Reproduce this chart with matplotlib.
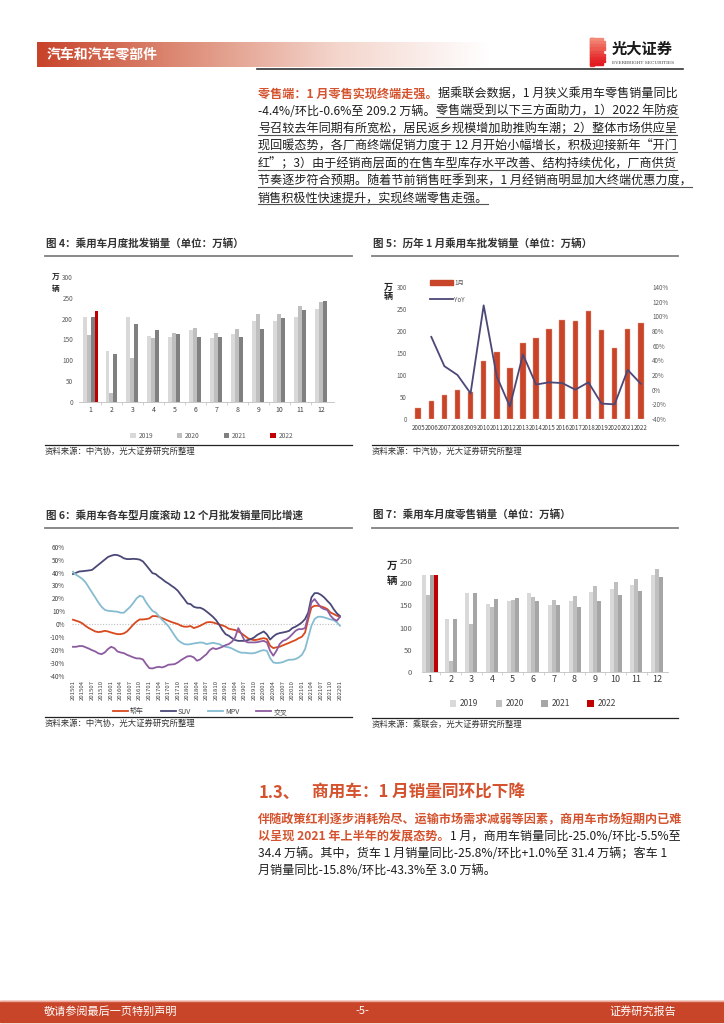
import numpy as np
import matplotlib
matplotlib.use('Agg')
import matplotlib.pyplot as plt
from matplotlib.colors import LinearSegmentedColormap
from matplotlib.patches import Rectangle, Patch
from matplotlib.lines import Line2D

plt.rcParams['font.family'] = ['Noto Sans CJK SC', 'DejaVu Sans']
plt.rcParams['axes.unicode_minus'] = False

# ---------------- 数据 ----------------
months = ['1', '2', '3', '4', '5', '6', '7', '8', '9', '10', '11', '12']
year_labels = ['2019', '2020', '2021', '2022']

# 图4 乘用车月度批发销量（万辆）
pf_2019 = [203, 122, 203, 158, 156, 173, 154, 164, 195, 195, 205, 224]
pf_2020 = [161, 22, 105, 154, 166, 178, 166, 175, 211, 212, 231, 239]
pf_2021 = [203, 115, 187, 172, 164, 157, 157, 157, 176, 202, 221, 243]
pf_2022 = [219] + [np.nan] * 11

# 图5 历年1月乘用车批发销量
years5 = ['2005', '2006', '2007', '2008', '2009', '2010', '2011', '2012', '2013',
          '2014', '2015', '2016', '2017', '2018', '2019', '2020', '2021', '2022']
jan_sales = [24, 42, 55, 66, 61, 131, 153, 116, 172, 185, 205, 225, 223, 246, 203, 162, 205, 219]
jan_yoy = [72, 32, 20, -5, 115, 18, -23, 48, 7, 10, 9, 0, 10, -19, -20, 27, 8]  # 2006起

# 图6 各车型滚动12个月批发销量同比（%），2015-01 ~ 2022-01
ticks6 = ['201501', '201504', '201507', '201510', '201601', '201604', '201607', '201610',
          '201701', '201704', '201707', '201710', '201801', '201804', '201807', '201810',
          '201901', '201904', '201907', '201910', '202001', '202004', '202007', '202010',
          '202101', '202104', '202107', '202110', '202201']
sedan = [3.4, 2.6, 1.8, 0.5, -1.5, -3.1, -4.4, -5.7, -6.2, -5.9,
         -5.2, -5.7, -6.5, -7.2, -7.8, -7.8, -7.2, -5.7, -3.1, -0.3,
         2.0, 3.6, 3.6, 3.9, 4.4, 6.2, 6.2, 5.7, 4.7, 3.6,
         2.6, 1.6, 0.8, 0.0, -1.3, -2.0, -2.0, -1.5, -3.1, -2.3,
         -1.3, 0.0, 1.3, 1.6, 1.3, 0.5, -0.3, -1.0, -2.0, -3.6,
         -4.1, -4.6, -5.7, -7.2, -9.0, -10.9, -11.9, -12.4, -12.1, -11.4,
         -10.9, -11.6, -16.8, -18.6, -18.0, -17.6, -16.5, -15.5, -14.5, -13.4,
         -12.4, -10.9, -9.8, -6.5, 3.9, 12.9, 14.2, 14.2, 13.7, 12.9,
         11.6, 9.0, 7.8, 6.5, 5.7]
suv = [38.8, 39.8, 40.8, 41.0, 41.3, 41.6, 42.0, 44.0, 46.0, 48.0,
       50.0, 52.0, 53.0, 53.7, 53.5, 52.5, 51.0, 50.4, 50.4, 50.6,
       50.4, 50.0, 48.6, 45.7, 42.6, 39.5, 38.8, 36.7, 35.0, 33.0,
       31.5, 29.7, 28.0, 25.8, 22.5, 19.4, 16.0, 15.5, 13.4, 12.7,
       12.7, 11.6, 9.8, 7.8, 5.7, 3.1, -0.5, -4.6, -7.8, -9.0,
       -10.9, -12.4, -13.0, -13.0, -13.0, -12.4, -11.6, -10.3, -8.3, -7.0,
       -5.7, -8.0, -12.0, -9.6, -7.8, -7.0, -6.5, -6.0, -5.2, -3.1,
       -2.0, -0.5, 1.3, 3.9, 9.0, 20.7, 24.0, 24.0, 22.7, 20.7,
       18.0, 15.5, 11.6, 8.3, 6.2]
mpv = [40.6, 38.2, 36.7, 34.9, 32.3, 28.4, 24.5, 20.7, 16.8, 13.4,
       11.1, 10.3, 10.1, 9.8, 9.6, 8.8, 8.8, 11.1, 13.4, 16.5,
       19.9, 22.0, 21.2, 16.8, 13.4, 10.3, 9.0, 6.2, 3.4, 1.0,
       -1.5, -5.2, -9.0, -12.4, -14.2, -15.5, -15.8, -15.5, -15.0, -14.7,
       -14.2, -14.5, -15.5, -15.0, -14.5, -15.0, -15.5, -16.8, -17.6, -18.0,
       -18.9, -20.2, -21.4, -22.2, -22.2, -22.5, -22.7, -22.5, -21.7, -20.7,
       -20.2, -20.7, -26.4, -29.7, -30.2, -30.0, -29.5, -28.4, -27.6, -27.6,
       -27.1, -25.8, -23.8, -19.4, -10.3, -1.3, 3.9, 5.7, 5.7, 5.2,
       4.4, 3.6, 3.1, 1.3, -1.3]
cross = [-17.6, -17.6, -17.0, -17.0, -18.0, -19.0, -20.2, -21.2, -22.7, -23.3,
         -22.0, -19.4, -17.6, -18.6, -21.2, -22.0, -22.5, -23.8, -24.8, -25.8,
         -26.6, -26.6, -27.4, -31.0, -34.1, -34.4, -33.6, -33.1, -33.6, -32.8,
         -31.5, -31.3, -31.0, -29.7, -27.9, -26.4, -25.0, -24.8, -25.8, -28.4,
         -27.4, -25.3, -23.3, -20.2, -18.6, -19.4, -18.6, -17.6, -16.3, -15.5,
         -13.7, -10.3, -3.1, -7.8, -13.0, -14.2, -14.2, -14.2, -14.0, -13.4,
         -13.0, -14.2, -20.7, -24.5, -20.7, -15.5, -13.0, -12.1, -10.3, -7.8,
         -5.2, -3.9, -3.9, -3.1, 6.5, 16.8, 19.4, 16.0, 12.9, 11.6,
         10.9, 6.5, 3.9, 2.6, 5.7]

# 图7 乘用车月度零售销量（万辆）
ls_2019 = [218, 119, 178, 153, 160, 178, 151, 159, 180, 187, 196, 218]
ls_2020 = [173, 25, 108, 146, 162, 168, 162, 172, 194, 202, 209, 232]
ls_2021 = [218, 119, 178, 164, 166, 160, 152, 147, 160, 173, 183, 213]
ls_2022 = [218] + [np.nan] * 11

# ---------------- 画布 ----------------
W, H = 724, 1024
RED = '#C8452A'
TRED = '#D4532E'
DARK = '#1E1E1E'

fig = plt.figure(figsize=(7.24, 10.24), dpi=100)
bg = fig.add_axes([0, 0, 1, 1])
bg.axis('off')

# 页眉渐变条
cmap = LinearSegmentedColormap.from_list('hdr', ['#C8432A', '#DE8F7A', '#F4D6CD', '#FFFFFF'])
bg.imshow(np.linspace(0, 1, 256)[None, :], cmap=cmap, aspect='auto',
          extent=(37, 490, 67, 42), zorder=1)
bg.set_xlim(0, W)
bg.set_ylim(H, 0)
bg.set_autoscale_on(False)


def box(x0, y0, x1, y1):
    return [x0 / W, 1 - y1 / H, (x1 - x0) / W, (y1 - y0) / H]


bg.text(47, 55, '汽车和汽车零部件', color='white', fontsize=10, fontweight='bold',
        va='center', zorder=3)
bg.plot([257, 683], [68.5, 68.5], color='#333333', lw=1.2)

# logo
stripe_cols = ['#F28A7A', '#F07A6C', '#EE6A5E', '#EC5A50', '#EA4A44', '#E83A38', '#E62C2E', '#E42228', '#E21A22']
bg.add_patch(Rectangle((590, 38), 4, 28, color='#E43A36', zorder=3))
for k, c in enumerate(stripe_cols):
    bg.add_patch(Rectangle((590, 38 + k * 3.15), 15 if k % 4 else 13, 2.2, color=c, zorder=3))
bg.text(612, 49, '光大证券', color='#1A1A1A', fontsize=11, fontweight='bold', va='center')
bg.text(612, 63, 'EVERBRIGHT SECURITIES', color='#444444', fontsize=3.2,
        family='DejaVu Serif', va='center')

# ---------------- 正文 ----------------
underlined = []


def write_line(x, y, parts, size=8.7):
    prev = None
    for s, color, weight, ul in parts:
        if prev is None:
            t = bg.text(x, y, s, color=color, fontsize=size, fontweight=weight,
                        va='bottom', ha='left')
        else:
            t = bg.annotate(s, xy=(1, 0), xycoords=prev, color=color, fontsize=size,
                            fontweight=weight, va='bottom', ha='left')
        if ul:
            underlined.append(t)
        prev = t


para1 = [
    [('零售端：1 月零售实现终端走强。', TRED, 'bold', False),
     ('据乘联会数据，1 月狭义乘用车零售销量同比', DARK, 'normal', False)],
    [('-4.4%/环比-0.6%至 209.2 万辆。', DARK, 'normal', False),
     ('零售端受到以下三方面助力，1）2022 年防疫', DARK, 'normal', True)],
    [('号召较去年同期有所宽松，居民返乡规模增加助推购车潮；2）整体市场供应呈', DARK, 'normal', True)],
    [('现回暖态势，各厂商终端促销力度于 12 月开始小幅增长，积极迎接新年“开门', DARK, 'normal', True)],
    [('红”；3）由于经销商层面的在售车型库存水平改善、结构持续优化，厂商供货', DARK, 'normal', True)],
    [('节奏逐步符合预期。随着节前销售旺季到来，1 月经销商明显加大终端优惠力度，', DARK, 'normal', True)],
    [('销售积极性快速提升，实现终端零售走强。', DARK, 'normal', True)],
]
for i, parts in enumerate(para1):
    write_line(258, 93.3 + 17.4 * i + 7, parts)

bg.text(259, 793, '1.3、', color=TRED, fontsize=12, fontweight='bold', va='center')
bg.text(312, 793, '商用车：1 月销量同环比下降', color=TRED, fontsize=12, fontweight='bold', va='center')

para2 = [
    [('伴随政策红利逐步消耗殆尽、运输市场需求减弱等因素，商用车市场短期内已难', TRED, 'bold', False)],
    [('以呈现 2021 年上半年的发展态势。', TRED, 'bold', False),
     ('1 月，商用车销量同比-25.0%/环比-5.5%至', DARK, 'normal', False)],
    [('34.4 万辆。其中，货车 1 月销量同比-25.8%/环比+1.0%至 31.4 万辆；客车 1', DARK, 'normal', False)],
    [('月销量同比-15.8%/环比-43.3%至 3.0 万辆。', DARK, 'normal', False)],
]
for i, parts in enumerate(para2):
    write_line(258, 819 + 17 * i + 7, parts)

# 页脚
bg.add_patch(Rectangle((0, 1001), W, 21, color=RED, zorder=1))
bg.plot([0, W], [1000.5, 1000.5], color='#EBA898', lw=1)
bg.text(44, 1011.5, '敬请参阅最后一页特别声明', color='white', fontsize=8, va='center')
bg.text(362, 1011.5, '-5-', color='white', fontsize=8, va='center', ha='center')
bg.text(676, 1011.5, '证券研究报告', color='white', fontsize=8, va='center', ha='right')


# 图表标题和来源
def frame(x0, x1, y_title, y_line, title, y_src_line, src):
    bg.text(x0, y_title, title, color='#333333', fontsize=7.6, fontweight='bold', va='center')
    bg.plot([x0 - 1, x1], [y_line, y_line], color='#808080', lw=1.3)
    bg.plot([x0 - 1, x1], [y_src_line, y_src_line], color='#222222', lw=0.9)
    bg.text(x0 - 1, y_src_line + 6.5, src, color='#333333', fontsize=6, va='center')


frame(46, 352, 243, 255.5, '图 4：乘用车月度批发销量（单位：万辆）', 445, '资料来源：中汽协，光大证券研究所整理')
frame(373, 678, 243, 255.5, '图 5：历年 1 月乘用车批发销量（单位：万辆）', 445, '资料来源：中汽协，光大证券研究所整理')
frame(46, 352, 515, 528, '图 6：乘用车各车型月度滚动 12 个月批发销量同比增速', 717, '资料来源：中汽协，光大证券研究所整理')
frame(373, 678, 515, 528, '图 7：乘用车月度零售销量（单位：万辆）', 718, '资料来源：乘联会，光大证券研究所整理')


def grouped(ax, series, colors, w):
    x = np.arange(1, 13)
    arr = np.array(series, dtype=float)
    n = (~np.isnan(arr)).sum(axis=0)
    for k in range(arr.shape[0]):
        pos = x + (k - (n - 1) / 2) * w
        ok = ~np.isnan(arr[k])
        ax.bar(pos[ok], arr[k][ok], width=w, color=colors[k], label=year_labels[k])
    ax.set_xticks(x)
    ax.set_xticklabels(months)
    ax.set_xticks(np.arange(1.5, 12, 1), minor=True)
    for s in ['left', 'right', 'top']:
        ax.spines[s].set_visible(False)
    ax.spines['bottom'].set_color('#BFBFBF')
    ax.spines['bottom'].set_linewidth(0.6)
    ax.tick_params(axis='x', which='major', length=0)
    ax.tick_params(axis='x', which='minor', length=2, color='#BFBFBF', width=0.5)
    ax.tick_params(axis='y', length=0, colors='#595959')


# ---------------- 图4 ----------------
ax4 = fig.add_axes(box(79, 277, 334, 402))
grouped(ax4, [pf_2019, pf_2020, pf_2021, pf_2022], ['#D9D9D9', '#BFBFBF', '#808080', '#C00000'], 0.19)
ax4.set_xlim(0.45, 12.62)
ax4.set_ylim(0, 300)
ax4.set_yticks(range(0, 301, 50))
ax4.tick_params(axis='y', labelsize=4.6, pad=4.3)
ax4.tick_params(axis='x', labelsize=5, pad=3, labelcolor='#404040')
ax4.legend(loc='upper center', bbox_to_anchor=(0.52, -0.19), ncol=4, frameon=False,
           fontsize=4.8, handlelength=0.8, handleheight=0.8, handletextpad=0.4,
           columnspacing=3.6, labelcolor='#595959')
bg.text(52, 277, '万', fontsize=5.5, fontweight='bold', va='center', color='#222222')
bg.text(52, 288, '辆', fontsize=5.5, fontweight='bold', va='center', color='#222222')

# ---------------- 图5 ----------------
ax5 = fig.add_axes(box(411, 287, 648, 419))
x5 = np.arange(len(years5))
ax5.bar(x5, jan_sales, width=0.42, color='#C9452A', edgecolor='#E7A08E', linewidth=0.3)
ax5.set_xlim(-0.55, 17.55)
ax5.set_ylim(0, 300)
ax5.set_yticks(range(0, 301, 50))
ax5.set_xticks(x5)
ax5.set_xticklabels(years5)
ax5r = ax5.twinx()
ax5r.plot(x5[1:], jan_yoy, color='#4B4878', lw=1.3)
ax5r.set_ylim(-40, 140)
ax5r.set_yticks(range(-40, 141, 20))
ax5r.set_yticklabels([f'{v}%' for v in range(-40, 141, 20)])
for a in (ax5, ax5r):
    for s in a.spines.values():
        s.set_visible(False)
ax5.tick_params(axis='y', length=0, labelsize=4.5, colors='#595959', pad=3)
ax5.tick_params(axis='x', length=0, labelsize=4.5, colors='#404040', pad=3.5)
ax5r.tick_params(axis='y', length=0, labelsize=4.5, colors='#595959', pad=3)
h5 = [Patch(color='#C9452A'), Line2D([], [], color='#4B4878', lw=1.3)]
ax5.legend(h5, ['1月', 'YoY'], loc='upper left', bbox_to_anchor=(0.07, 1.08), frameon=False,
           fontsize=4.5, handlelength=3.6, handleheight=0.9, labelspacing=1.4,
           handletextpad=0.3, labelcolor='#595959', borderaxespad=0)
bg.text(384, 287, '万', fontsize=6.5, fontweight='bold', va='center', color='#222222')
bg.text(384, 297, '辆', fontsize=6.5, fontweight='bold', va='center', color='#222222')

# ---------------- 图6 ----------------
ax6 = fig.add_axes(box(72, 546.7, 341, 675.7))
t6 = np.arange(len(sedan))
ax6.axhline(0, color='#BFBFBF', lw=0.8, ls=(0, (1, 1.5)))
ax6.plot(t6, sedan, color='#D8491D', lw=1.3, label='轿车')
ax6.plot(t6, suv, color='#4A4877', lw=1.3, label='SUV')
ax6.plot(t6, mpv, color='#86BCD1', lw=1.3, label='MPV')
ax6.plot(t6, cross, color='#8D5B9F', lw=1.3, label='交叉')
ax6.set_xlim(-0.3, 84.3)
ax6.set_ylim(-40, 60)
ax6.set_yticks(range(-40, 61, 10))
ax6.set_yticklabels([f'{v}%' for v in range(-40, 61, 10)])
ax6.set_xticks(np.arange(0, 85, 3))
ax6.set_xticklabels(ticks6, rotation=90)
for s in ax6.spines.values():
    s.set_visible(False)
ax6.tick_params(axis='y', length=0, labelsize=4.6, colors='#404040', pad=5)
ax6.tick_params(axis='x', length=0, labelsize=4.3, colors='#404040', pad=3)
ax6.legend(loc='upper center', bbox_to_anchor=(0.476, -0.2), ncol=4, frameon=False,
           fontsize=5, handlelength=2.2, handletextpad=0.3, columnspacing=2.4,
           labelcolor='#404040')

# ---------------- 图7 ----------------
ax7 = fig.add_axes(box(422, 561, 668, 672))
grouped(ax7, [ls_2019, ls_2020, ls_2021, ls_2022], ['#D9D9D9', '#BFBFBF', '#A6A6A6', '#C00000'], 0.194)
ax7.set_xlim(0.61, 12.53)
ax7.set_ylim(0, 250)
ax7.set_yticks(range(0, 251, 50))
ax7.tick_params(axis='y', labelsize=5.5, pad=7)
ax7.tick_params(axis='x', labelsize=6.5, pad=2.5, labelcolor='#404040')
ax7.legend(loc='upper center', bbox_to_anchor=(0.45, -0.18), ncol=4, frameon=False,
           fontsize=6, handlelength=0.8, handleheight=0.8, handletextpad=0.4,
           columnspacing=2.1, labelcolor='#404040')
bg.text(387, 566, '万', fontsize=7.5, fontweight='bold', va='center', color='#222222')
bg.text(387, 581, '辆', fontsize=7.5, fontweight='bold', va='center', color='#222222')

# 下划线
fig.canvas.draw()
r = fig.canvas.get_renderer()
inv = bg.transData.inverted()
for t in underlined:
    bb = t.get_window_extent(r)
    (x0, y0), (x1, y1) = inv.transform([[bb.x0, bb.y0], [bb.x1, bb.y1]])
    bg.plot([x0, x1], [y0 - 0.3, y0 - 0.3], color='#555555', lw=0.8)

fig.savefig('out.png', dpi=100)
